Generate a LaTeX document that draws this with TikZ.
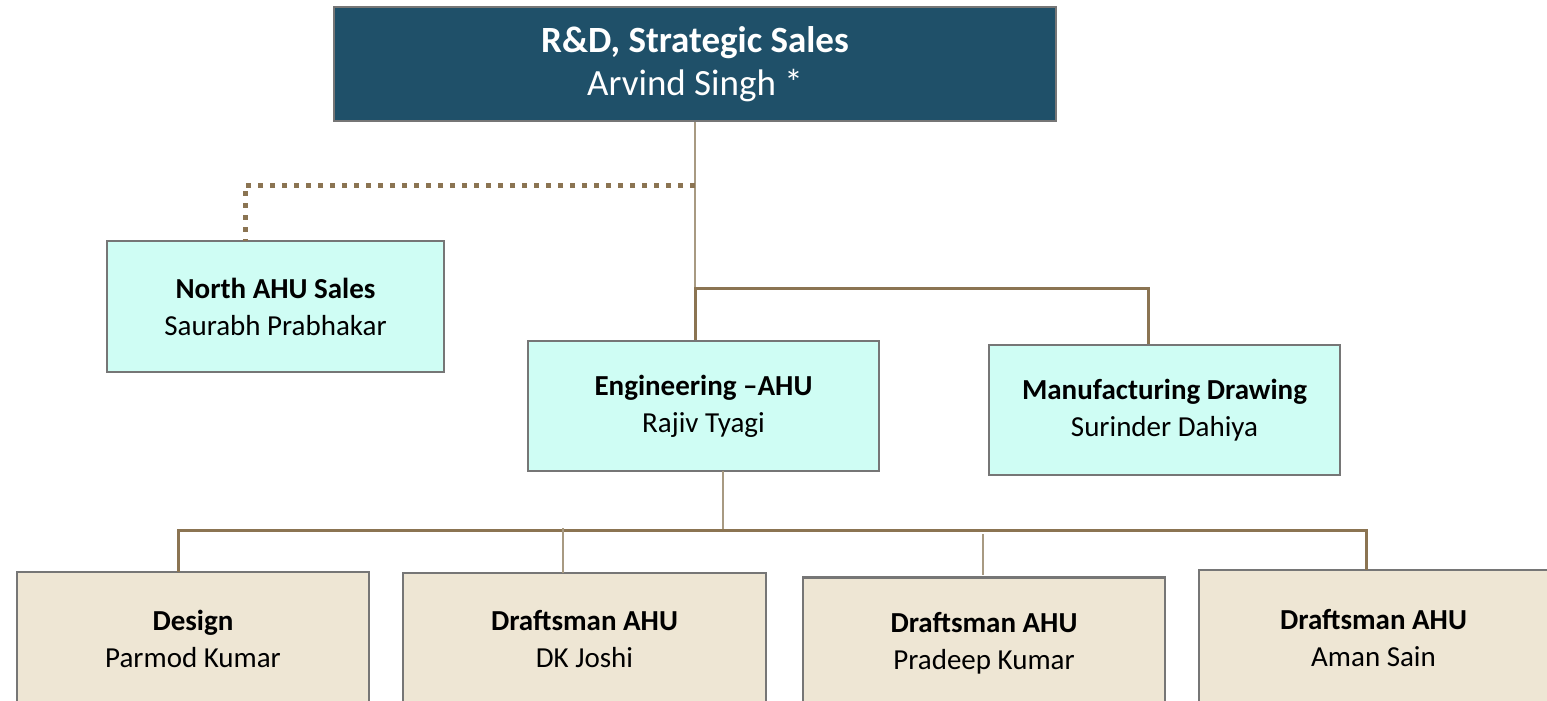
\documentclass[tikz,border=0pt]{standalone}
\usepackage{fontspec}
\setmainfont{Carlito}
\definecolor{topfill}{HTML}{1F5069}
\definecolor{cyanfill}{HTML}{CFFDF4}
\definecolor{beigefill}{HTML}{EEE6D4}
\definecolor{boxline}{HTML}{767676}
\definecolor{conn}{HTML}{8B7452}
\definecolor{connthin}{HTML}{A89A82}
\begin{document}
\begin{tikzpicture}[x=0.5pt,y=-0.5pt,
  box/.style={draw=boxline,line width=1.1pt,align=center,inner sep=0pt,
    font=\fontsize{14.5}{18.5}\selectfont},
  cbox/.style={box,fill=cyanfill},
  bbox/.style={box,fill=beigefill},
  thick conn/.style={draw=conn,line width=1.5pt},
  thin conn/.style={draw=connthin,line width=0.6pt},
  dot conn/.style={draw=conn,line width=2.5pt,dash pattern=on 2.5pt off 3.5pt}]
\useasboundingbox (0,0) rectangle (1547,701);
\node[draw=boxline,line width=1pt,fill=topfill,text=white,align=center,
  minimum width=361pt,minimum height=57pt,inner sep=0pt,
  font=\fontsize{18.5}{21.5}\selectfont] (top) at (695,64)
  {\textbf{R\&D, Strategic Sales}\\Arvind Singh *};
\node[cbox,minimum width=168.5pt,minimum height=65.5pt] (north) at (275.5,306.5)
  {\textbf{North AHU Sales}\\Saurabh Prabhakar};
\node[cbox,minimum width=175.5pt,minimum height=65pt] (eng) at (703.5,406)
  {\textbf{Engineering –AHU}\\Rajiv Tyagi};
\node[cbox,minimum width=175.5pt,minimum height=65pt] (mfg) at (1164.5,410)
  {\textbf{Manufacturing Drawing}\\Surinder Dahiya};
\node[bbox,minimum width=176pt,minimum height=67pt] (des) at (193,639)
  {\textbf{Design}\\Parmod Kumar};
\node[bbox,minimum width=181.5pt,minimum height=66.5pt] (dk) at (584.5,639.5)
  {\textbf{Draftsman AHU}\\DK Joshi};
\node[bbox,minimum width=181pt,minimum height=65.5pt] (pk) at (984,643)
  {\textbf{Draftsman AHU}\\Pradeep Kumar};
\node[bbox,minimum width=174.5pt,minimum height=68pt] (as) at (1373.5,638)
  {\textbf{Draftsman AHU}\\Aman Sain};
% junctions
\coordinate (jd) at (695,185);
\coordinate (nd) at (245,241);
\coordinate (jm) at (695,288);
\coordinate (je) at (723,530);
\coordinate (ed) at (723,471);
\coordinate (dd) at (178,572);
\coordinate (dkt) at (563,528);
\coordinate (dkb) at (563,573);
\coordinate (pkt) at (983,534);
\coordinate (pkb) at (983,575);
\coordinate (asb) at (1366,570);
% connectors
\draw[thin conn] (top.south) -- (top.south |- jm);
\draw[dot conn] (jd) -| (nd);
\draw[thick conn] (top.south |- eng.north) |- (jm) -| (1148,288) -- (1148,288 |- mfg.north);
\draw[thin conn] (ed) -- (je);
\draw[thick conn] (dd) |- (je) -| (asb);
\draw[thin conn] (dkt) -- (dkb);
\draw[thin conn] (pkt) -- (pkb);
\end{tikzpicture}
\end{document}
